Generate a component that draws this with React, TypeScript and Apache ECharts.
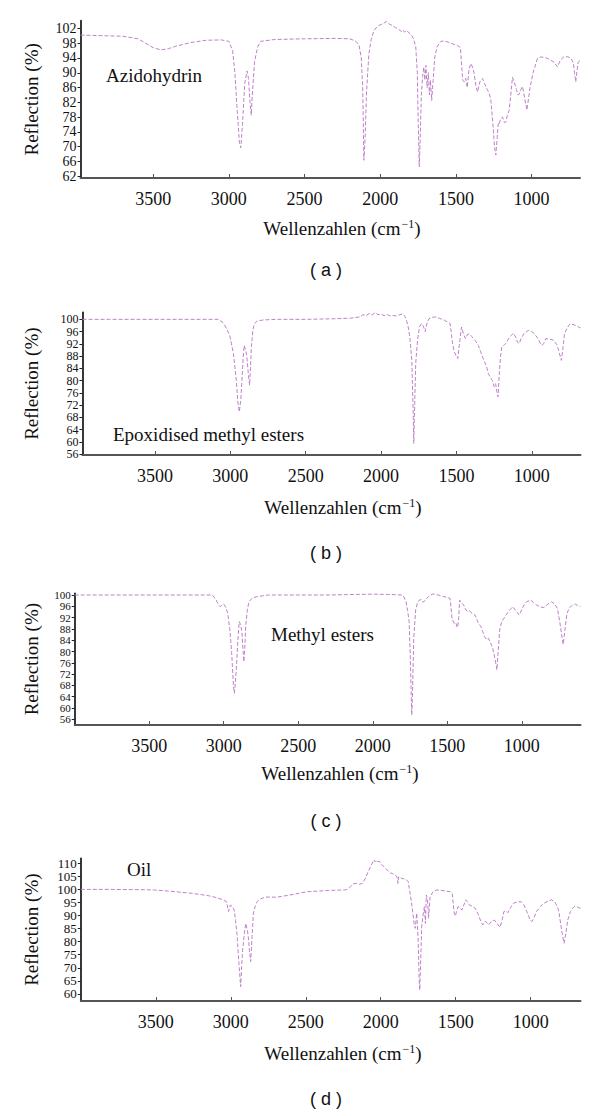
import React, { useEffect, useRef } from "react";
import * as echarts from "echarts";

// ---------- data ----------
const X_TICKS = [3500, 3000, 2500, 2000, 1500, 1000];
const Y_TICKS_A = [62, 66, 70, 74, 78, 82, 86, 90, 94, 98, 102];
const Y_TICKS_B = [56, 60, 64, 68, 72, 76, 80, 84, 88, 92, 96, 100];
const Y_TICKS_C = [56, 60, 64, 68, 72, 76, 80, 84, 88, 92, 96, 100];
const Y_TICKS_D = [60, 65, 70, 75, 80, 85, 90, 95, 100, 105, 110];

const LABELS = ["Azidohydrin", "Epoxidised methyl esters", "Methyl esters", "Oil"];
const CAPTIONS = ["( a )", "( b )", "( c )", "( d )"];
const X_TITLE = "Wellenzahlen (cm{s|−1})";
const Y_TITLE = "Reflection (%)";

// (a) Azidohydrin
const WN_A = [3980,3800,3700,3600,3550,3500,3450,3400,3350,3250,3150,3050,3000,2975,2960,2945,2930,2921,2910,2895,2880,2870,2860,2852,2845,2830,2810,2790,2700,2500,2300,2200,2160,2140,2125,2115,2108,2100,2090,2075,2060,2040,2020,2000,1980,1960,1940,1920,1900,1880,1860,1850,1840,1825,1810,1795,1780,1765,1755,1748,1742,1736,1728,1720,1712,1705,1698,1690,1682,1675,1668,1660,1650,1640,1625,1600,1577,1550,1520,1490,1470,1462,1455,1445,1435,1425,1413,1400,1390,1379,1368,1357,1342,1324,1310,1291,1280,1269,1255,1245,1236,1228,1220,1214,1205,1192,1180,1170,1160,1148,1135,1126,1115,1100,1090,1082,1070,1060,1045,1031,1020,1010,990,961,939,900,873,850,829,810,785,760,741,724,716,708,700,693,680];
const VAL_A = [100.2,100,99.9,99.2,98,96.8,96.2,96.5,97.2,98.2,98.8,98.9,98.5,96,90,80,71,69.7,76,87,90.5,88.5,82,78.5,84,93,97,98.5,99,99.2,99.3,99.2,98.5,97.5,94,85,66.3,72,85,95,99,101.5,102.5,103,103.3,103.9,103.2,102.8,102.3,101.8,101.2,101.6,101,101.5,100.8,100.3,99.3,97,90,75,64.5,72,84,89,91.5,88,92,86,90,84,88,82.5,88,94,97,98.5,98.6,98.3,97.8,97.4,96.8,92,88,87.5,88.5,86,91,92.5,91.5,89.8,86.5,84.8,87.5,88.5,87,85.3,84.5,82.6,76,70,67.7,72,76.3,76,77.5,78,76.5,76.7,78.5,79.8,85,88.8,87.5,85.5,84,84.2,85.5,86.3,83,79.9,83,86,90,93.9,94.3,94,93.4,92.8,91.6,93.4,94.4,94.3,94,92.7,90,87.5,90.5,92.7,93.5];

// (b) Epoxidised methyl esters
const WN_B = [3980,3800,3600,3400,3200,3080,3050,3030,3004,2979,2960,2950,2940,2930,2923,2915,2908,2898,2890,2880,2872,2866,2860,2850,2840,2820,2780,2700,2500,2300,2200,2140,2120,2100,2080,2060,2040,2020,2000,1980,1960,1940,1920,1900,1880,1860,1845,1834,1820,1809,1796,1788,1783,1778,1770,1758,1745,1733,1720,1707,1695,1682,1660,1644,1610,1580,1555,1542,1535,1529,1515,1504,1491,1480,1466,1452,1440,1428,1415,1400,1377,1355,1339,1325,1313,1300,1288,1275,1262,1250,1240,1232,1224,1215,1207,1199,1185,1173,1150,1135,1122,1105,1095,1084,1070,1050,1021,1000,983,960,945,932,920,907,880,856,835,822,812,804,795,783,765,745,720,700,689,677];
const VAL_B = [100,100,100,100,100,100,99,97.5,94.8,88.8,80,73,69.8,74,80,87,91.5,90,87.7,82,78.5,84,91,96.5,98.6,99.5,99.8,100,100,100.2,100.4,100.8,101.5,101.2,101.9,101.4,102.2,101.5,101.8,101.2,101.6,101.1,101.3,101.1,101.4,101.8,101.2,100.2,97.5,94.2,86.6,72,59.5,70,85.6,93.2,97.5,98.6,97.8,96,98.8,100.2,100.6,100.8,100.3,99.7,99,98.6,96,93.2,89.5,88.3,87.2,92,97.5,95,93.7,95,95.3,94.5,93.2,91.5,89.4,87.5,86.1,84.5,82.3,81,80.1,78,79,76.5,74.7,83,88,91,91.5,92.1,94,94.8,95.5,94,92.5,92.1,93.8,95.5,96.4,96,95.3,93.8,92.3,91.5,92.2,93.7,93.5,93.2,91.8,89.9,88,86.6,90,95.3,97.3,98.6,98.2,97.8,97.5,97.2];

// (c) Methyl esters
const WN_C = [4000,3800,3600,3400,3200,3076,3050,3035,3024,3010,2998,2985,2973,2960,2947,2935,2929,2922,2914,2905,2896,2887,2878,2870,2865,2858,2852,2842,2831,2810,2780,2700,2500,2300,2100,2000,1900,1803,1790,1777,1766,1756,1748,1742,1738,1733,1725,1712,1700,1687,1675,1661,1648,1625,1597,1560,1520,1481,1468,1455,1442,1436,1430,1423,1417,1404,1391,1378,1365,1352,1333,1314,1295,1275,1262,1250,1237,1224,1210,1198,1185,1175,1167,1160,1153,1147,1135,1121,1095,1070,1062,1040,1018,1000,985,967,941,920,902,875,851,825,800,780,761,745,730,722,712,697,680,658,640,625,607];
const VAL_C = [100,100,100,100,100,100,98.2,96.5,95.9,96.5,96.7,95.5,93.5,88.2,79.9,68,65.2,69,75.2,84,90.6,89.5,87,80,76.4,82,89.4,94.5,97.6,98.8,99.4,100,100,100,100.2,100.3,100.2,100,99.3,97.6,94.5,90.6,78,65,57.5,66,84.7,94.7,97.2,98.2,98.4,97.4,98.2,99.5,100.4,100,99.4,98.8,91.7,90,90.2,88.8,88.5,92,98.2,97.2,96.5,95,94.1,94.4,93.5,92.9,90.5,88.8,87,85.3,84.2,84.7,83,81.7,78.8,76,73.5,79,84,88.2,90.5,91.7,93.8,95.3,95.9,94.5,92.9,94.8,96.5,97.6,98.2,97.3,96.5,95.8,95.5,96.8,97.6,96.8,95.3,90.5,85,82.5,87,93.5,95.5,96.5,96.8,96.2,95.9];

// (d) Oil
const WN_D = [4000,3800,3600,3513,3400,3258,3150,3105,3060,3028,3015,3003,2990,2977,2968,2959,2946,2934,2928,2921,2910,2900,2891,2883,2875,2867,2858,2849,2836,2824,2800,2773,2740,2696,2600,2492,2350,2237,2225,2200,2186,2161,2140,2122,2100,2084,2065,2046,2035,2025,2020,2010,1995,1980,1957,1935,1920,1906,1893,1885,1880,1860,1845,1829,1820,1816,1810,1804,1791,1778,1770,1760,1750,1744,1740,1735,1727,1719,1709,1702,1696,1688,1681,1671,1650,1625,1580,1536,1523,1510,1502,1495,1485,1472,1459,1446,1434,1420,1408,1390,1370,1350,1332,1319,1310,1299,1290,1281,1265,1243,1225,1204,1190,1179,1165,1153,1135,1115,1090,1064,1045,1026,1005,992,975,962,935,911,885,860,840,822,812,804,790,778,765,753,735,720,705,695,680,668];
const VAL_D = [100,100,99.9,99.8,99.3,98.5,97.6,97,96.2,95.3,91.5,94,93.5,92.1,88,83.2,72,62.8,70,76.8,83,87,85,81.9,76,72.4,82,90.9,93.8,95.3,96.4,97,97.1,97,97.9,99.1,99.6,99.8,100,101.2,102.1,102.3,102,102.3,104.5,106.8,109,111.3,110.5,111.2,110.6,110.8,109.4,108.8,107.4,106.3,106,105.5,105,102.3,104.9,104.2,104,103.6,103.2,103,100.5,98.5,93.4,87,85.1,90.9,80,66,61.5,70,85.8,89.6,93.4,87,97.9,96,89,97.2,99.2,99.8,99.5,99.1,98.3,90.9,89.8,91.5,93.4,93,92.1,94,96,95.2,94,93.5,92.8,90.5,87.7,86.4,87.5,87.7,87,86.4,87.5,88.3,87,85.5,88.5,91.5,91.8,91.1,93,94.7,95.2,95.3,94,91.5,88.5,87.7,89.5,91.5,93.5,94.7,95.5,96,95.2,93.4,91.5,88.3,83,79.4,83.5,88.3,91.5,92.8,93.6,93.4,93,92.8];

// ---------- layout ----------
const SERIF = "'Liberation Serif', 'DejaVu Serif', serif";
const SANS = "'Liberation Sans', Arial, sans-serif";

const PANELS = [
  { wn: WN_A, val: VAL_A, yTicks: Y_TICKS_A, grid: { left: 80.5, top: 20.7, width: 499.5, height: 157.3 }, xMin: 680, xMax: 3980, yMin: 61.5, yMax: 104.1, yFont: 14,
    label: { x: 106, y: 75 }, xTitleY: 228, xTitleX: 342, captionY: 270 },
  { wn: WN_B, val: VAL_B, yTicks: Y_TICKS_B, grid: { left: 82.4, top: 312.3, width: 498.1, height: 142.7 }, xMin: 677, xMax: 3981, yMin: 55.7, yMax: 102.3, yFont: 12,
    label: { x: 113, y: 434 }, xTitleY: 507, xTitleX: 343, captionY: 553 },
  { wn: WN_C, val: VAL_C, yTicks: Y_TICKS_C, grid: { left: 74.7, top: 593.3, width: 505.8, height: 131.7 }, xMin: 606, xMax: 4000, yMin: 54.0, yMax: 100.6, yFont: 11,
    label: { x: 271, y: 634 }, xTitleY: 773, xTitleX: 340, captionY: 821 },
  { wn: WN_D, val: VAL_D, yTicks: Y_TICKS_D, grid: { left: 80.8, top: 858.3, width: 499.7, height: 142.7 }, xMin: 668, xMax: 4000, yMin: 57.3, yMax: 111.9, yFont: 13,
    label: { x: 127, y: 869 }, xTitleY: 1053, xTitleX: 343, captionY: 1099 },
];

export default function App() {
  const ref = useRef<HTMLDivElement>(null);

  useEffect(() => {
    if (!ref.current) return;
    const chart = echarts.init(ref.current, undefined, { renderer: "svg" });

    const graphic: any[] = [];
    PANELS.forEach((p, i) => {
      graphic.push({
        type: "text", x: p.label.x, y: p.label.y,
        style: { text: LABELS[i], font: `19px ${SERIF}`, fill: "#111", align: "left", verticalAlign: "middle" },
      });
      graphic.push({
        type: "text", x: p.xTitleX, y: p.xTitleY,
        style: {
          text: X_TITLE, fontSize: 19, fontFamily: SERIF, fill: "#111", align: "center", verticalAlign: "middle",
          rich: { s: { fontSize: 12, fontFamily: SERIF, fill: "#111", verticalAlign: "top", padding: [0, 0, 8, 1] } },
        },
      });
      graphic.push({
        type: "text", x: 326, y: p.captionY,
        style: { text: CAPTIONS[i], font: `18px ${SANS}`, fill: "#111", align: "center", verticalAlign: "middle" },
      });
      graphic.push({
        type: "text", x: 31, y: p.grid.top + p.grid.height / 2, rotation: Math.PI / 2,
        style: { text: Y_TITLE, font: `19px ${SERIF}`, fill: "#111", align: "center", verticalAlign: "middle" },
      });
    });

    // two y axes per grid: one carries the line, ticks and even labels; the other the odd labels
    const yAxis: any[] = [];
    PANELS.forEach((p, i) => {
      const even = p.yTicks.filter((_, k) => k % 2 === 0);
      const odd = p.yTicks.filter((_, k) => k % 2 === 1);
      const labelBase = {
        margin: 4, fontSize: p.yFont, fontFamily: SERIF, color: "#111",
        showMinLabel: true, showMaxLabel: true, hideOverlap: false,
        formatter: (v: number) => String(v),
      };
      yAxis.push({
        type: "value", gridIndex: i, min: p.yMin, max: p.yMax, position: "left",
        axisLine: { show: true, onZero: false, lineStyle: { color: "#222", width: 1.8 } },
        axisTick: { show: true, inside: false, length: 3, customValues: p.yTicks, lineStyle: { color: "#222", width: 1 } },
        axisLabel: { ...labelBase, customValues: even },
        splitLine: { show: false },
      });
      yAxis.push({
        type: "value", gridIndex: i, min: p.yMin, max: p.yMax, position: "left", offset: 0,
        axisLine: { show: false, onZero: false },
        axisTick: { show: false },
        axisLabel: { ...labelBase, customValues: odd },
        splitLine: { show: false },
      });
    });

    chart.setOption({
      animation: false,
      backgroundColor: "#ffffff",
      grid: PANELS.map((p) => ({ ...p.grid, containLabel: false })),
      xAxis: PANELS.map((p, i) => ({
        type: "value", gridIndex: i, inverse: true, min: p.xMin, max: p.xMax,
        axisLine: { show: true, onZero: false, lineStyle: { color: "#555", width: 2 } },
        axisTick: { show: true, inside: true, length: 4, customValues: X_TICKS, lineStyle: { color: "#555", width: 1 } },
        axisLabel: { customValues: X_TICKS, margin: 12, fontSize: 18, fontFamily: SERIF, color: "#111",
          formatter: (v: number) => String(v), hideOverlap: false },
        splitLine: { show: false },
      })),
      yAxis,
      series: PANELS.map((p, i) => ({
        type: "line", xAxisIndex: i, yAxisIndex: i * 2, showSymbol: false, symbol: "none",
        data: p.wn.map((w, k) => [w, p.val[k]]),
        lineStyle: { color: "#bf80c9", width: 1, type: [4, 2] },
        emphasis: { disabled: true },
      })),
      graphic,
    });

    return () => chart.dispose();
  }, []);

  return <div ref={ref} style={{ position: "absolute", left: 0, top: 0, width: 600, height: 1116 }} />;
}
